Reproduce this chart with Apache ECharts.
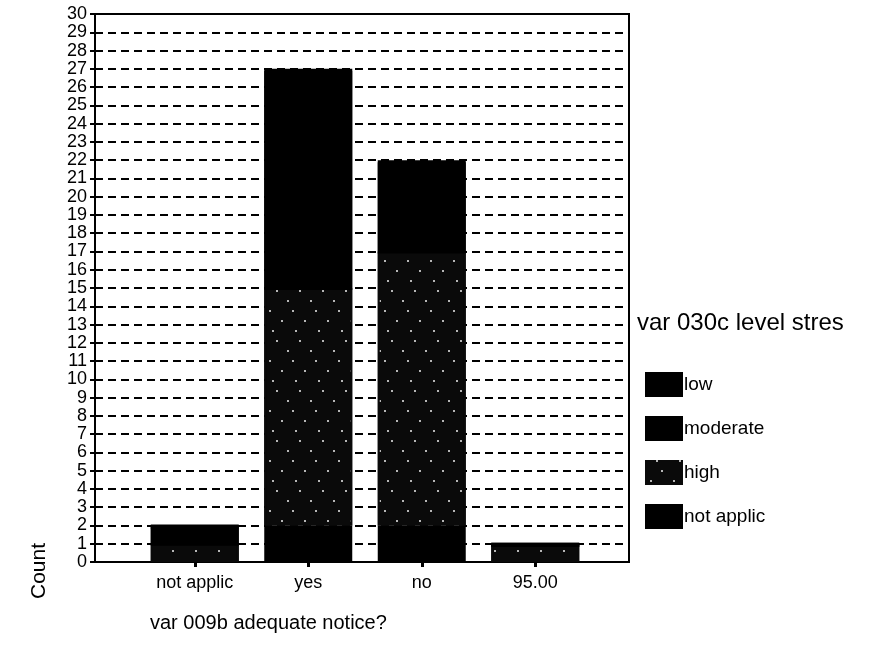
<!DOCTYPE html>
<html>
<head>
<meta charset="utf-8">
<script src="https://cdn.jsdelivr.net/npm/echarts@6/dist/echarts.min.js"></script>
<style>
  html, body { margin: 0; padding: 0; background: #fff; }
  #chart { width: 878px; height: 662px; }
</style>
</head>
<body>
<div id="chart"></div>
<script>
// Categories of "var 009b adequate notice?"
const categories = ['not applic', 'yes', 'no', '95.00'];

// Counts per stress level (stacked bottom to top: not applic, high, moderate, low)
const notApplicCounts = [0, 2, 2, 0];
const highCounts = [1, 13, 15, 1];
const moderateCounts = [1, 8, 3, 0];
const lowCounts = [0, 4, 2, 0];

// Legend entries, top to bottom
const legendLabels = ['low', 'moderate', 'high', 'not applic'];

const FONT = '"Liberation Sans", Arial, sans-serif';

// sparse light specks over a dark fill for the "high" level
const speckle = {
  symbol: 'rect',
  symbolSize: 1,
  color: 'rgba(255,255,255,0.7)',
  dashArrayX: [[2, 21], [0, 11, 2, 10], [0, 16, 2, 5], [0, 5, 2, 16], [0, 19, 2, 2]],
  dashArrayY: [2, 8],
  rotation: 0
};

// solid black segments; a short hard shadow closes the seam with the segment below
const solid = {
  color: '#000000', borderColor: '#000000', borderWidth: 2,
  shadowColor: '#000000', shadowBlur: 0, shadowOffsetY: 2
};

const chart = echarts.init(document.getElementById('chart'), null, { renderer: 'canvas' });

const option = {
  backgroundColor: '#ffffff',
  animation: false,
  textStyle: { fontFamily: FONT, color: '#000' },
  grid: [
    // frame with the count axis and dashed guide lines
    { left: 95, right: 249, top: 14, bottom: 100, show: true, borderColor: '#000', borderWidth: 2, backgroundColor: 'transparent' },
    // bar area
    { left: 138, right: 286, top: 14, bottom: 100 }
  ],
  xAxis: [
    {
      gridIndex: 0, type: 'value', min: 0, max: 1,
      axisLine: { show: true, onZero: false, lineStyle: { color: '#000', width: 2 } },
      axisTick: { show: false }, axisLabel: { show: false }, splitLine: { show: false }
    },
    {
      gridIndex: 1, type: 'category', data: categories,
      axisLine: { show: false },
      axisTick: { show: true, alignWithLabel: true, length: 5, lineStyle: { color: '#000', width: 3 } },
      axisLabel: { fontFamily: FONT, fontSize: 18, color: '#000', margin: 12 }
    }
  ],
  yAxis: [
    {
      gridIndex: 0, type: 'value', min: 0, max: 30, interval: 1,
      axisLine: { show: true, lineStyle: { color: '#000', width: 2 } },
      axisTick: { show: true, inside: false, length: 5, lineStyle: { color: '#000', width: 2 } },
      axisLabel: { fontFamily: FONT, fontSize: 18, color: '#000', margin: 8, lineHeight: 16 },
      splitLine: { show: true, lineStyle: { color: '#000', width: 2, type: [8, 5] } }
    },
    {
      gridIndex: 1, type: 'value', min: 0, max: 30, interval: 1,
      show: false, splitLine: { show: false }
    }
  ],
  legend: {
    orient: 'vertical',
    left: 645, top: 372,
    padding: 0,
    itemWidth: 38, itemHeight: 25, itemGap: 19,
    icon: 'rect',
    itemStyle: { borderWidth: 0, shadowOffsetY: 0 },
    data: legendLabels,
    textStyle: { fontFamily: FONT, fontSize: 19, color: '#000', padding: [4, 0, 0, -4] },
    selectedMode: false
  },
  graphic: [
    {
      type: 'text', left: 637, top: 311,
      style: { text: 'var 030c level stres', font: '24px ' + FONT, fill: '#000' }
    },
    {
      type: 'text', x: 29, y: 599, rotation: Math.PI / 2,
      style: { text: 'Count', font: '21px ' + FONT, fill: '#000' }
    },
    {
      type: 'text', left: 150, top: 613,
      style: { text: 'var 009b adequate notice?', font: '20px ' + FONT, fill: '#000' }
    }
  ],
  series: [
    { name: 'not applic', type: 'bar', stack: 'level', xAxisIndex: 1, yAxisIndex: 1, barWidth: 88,
      data: notApplicCounts, itemStyle: { color: '#000000', borderColor: '#000000', borderWidth: 2 } },
    { name: 'high', type: 'bar', stack: 'level', xAxisIndex: 1, yAxisIndex: 1, barWidth: 88,
      data: highCounts, itemStyle: { color: '#0a0a0a', borderColor: '#0a0a0a', borderWidth: 2, decal: speckle } },
    { name: 'moderate', type: 'bar', stack: 'level', xAxisIndex: 1, yAxisIndex: 1, barWidth: 88,
      data: moderateCounts, itemStyle: solid },
    { name: 'low', type: 'bar', stack: 'level', xAxisIndex: 1, yAxisIndex: 1, barWidth: 88,
      data: lowCounts, itemStyle: solid }
  ]
};

chart.setOption(option);
</script>
</body>
</html>
